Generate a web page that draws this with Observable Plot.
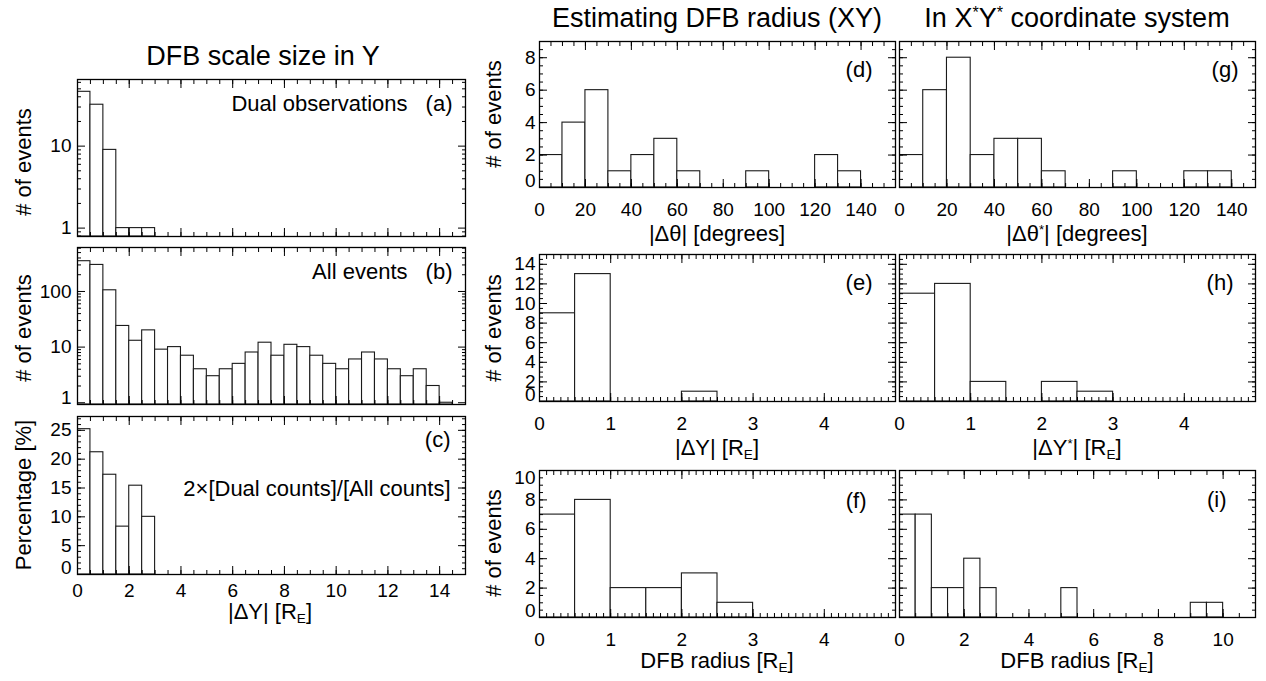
<!DOCTYPE html>
<html><head><meta charset="utf-8">
<script src="https://cdn.jsdelivr.net/npm/d3@7"></script>
<script src="https://cdn.jsdelivr.net/npm/@observablehq/plot@0.6"></script>
<style>
body{margin:0;background:#fff;}
#chart{position:relative;width:1266px;height:681px;overflow:hidden;font-family:"Liberation Sans",Arial,Helvetica,sans-serif;color:#000;background:#fff;}
.lbl{position:absolute;white-space:nowrap;line-height:1;}
.lbl sub{font-size:0.62em;vertical-align:-0.28em;line-height:0;}
.lbl sup{font-size:0.6em;vertical-align:0.55em;line-height:0;}
</style></head><body><div id="chart"></div><script>
// ---------- data ----------
// (a) Dual observations, |ΔY| bins (RE)
const dualBinStart = [0, 0.5, 1, 1.5, 2, 2.5];
const dualCounts   = [46, 32, 9, 1, 1, 1];
// (b) All events, |ΔY| bins (RE)
const allBinStart = [0,0.5,1,1.5,2,2.5,3,3.5,4,4.5,5,5.5,6,6.5,7,7.5,8,8.5,9,9.5,10,10.5,11,11.5,12,12.5,13,13.5,14];
const allCounts   = [350,300,105,24,13,20,9,10,7,4,3,4,5,8,12,7,11,10,7,5,4,6,8,6,4,3,4,2,1];
// (c) 2×[Dual counts]/[All counts] in %
const pctBinStart = [0, 0.5, 1, 1.5, 2, 2.5];
const pctValues   = [25.2, 21.2, 17.3, 8.3, 15.4, 10];
const yBinWidth = 0.5;
// (d) |Δθ| and (g) |Δθ*| in degrees
const thetaBinStart   = [0,10,20,30,40,50,60,70,80,90,100,110,120,130];
const thetaCounts     = [2,4,6,1,2,3,1,0,0,1,0,0,2,1];
const thetaStarCounts = [2,6,8,2,3,3,1,0,0,1,0,0,1,1];
const thetaBinWidth = 10;
// (e) |ΔY| and (h) |ΔY*| (RE)
const dyBinStart     = [0, 0.5, 1, 1.5, 2, 2.5];
const dyCounts       = [9, 13, 0, 0, 1, 0];
const dyStarCounts   = [11, 12, 2, 0, 2, 1];
// (f) DFB radius (RE), XY
const radBinStart = [0, 0.5, 1, 1.5, 2, 2.5];
const radCounts   = [7, 8, 2, 2, 3, 1];
// (i) DFB radius (RE), X*Y*
const radStarBinStart = [0,0.5,1,1.5,2,2.5,3,3.5,4,4.5,5,5.5,6,6.5,7,7.5,8,8.5,9,9.5];
const radStarCounts   = [7,7,2,2,4,2,0,0,0,0,2,0,0,0,0,0,0,0,1,1];
const halfBin = 0.5;

// tick labels
const leftXTicks   = [0,2,4,6,8,10,12,14];
const dualYTicks   = [1,10];
const allYTicks    = [1,10,100];
const pctYTicks    = [0,5,10,15,20,25];
const thetaXTicks  = [0,20,40,60,80,100,120,140];
const countYTicks8 = [0,2,4,6,8];
const dyXTicks     = [0,1,2,3,4];
const dyYTicks     = [0,2,4,6,8,10,12,14];
const radYTicks    = [0,2,4,6,8,10];
const radStarXTicks= [0,2,4,6,8,10];

// ---------- helpers ----------
const root = document.getElementById("chart");
const FONT = '"Liberation Sans", Arial, Helvetica, sans-serif';
function steps(a, b, s) { const r = []; for (let k = 0; a + k * s <= b + 1e-9; k++) r.push(+(a + k * s).toFixed(6)); return r; }
function logMinor(lo, hi) { const r = []; for (let p = -1; p <= 3; p++) for (let m = 2; m <= 9; m++) { const v = m * 10 ** p; if (v > lo && v < hi) r.push(v); } return r; }

function panel(o) {
  const [L, T, R, B] = o.frame;
  const ml = 80, mr = 20, mt = 12, mb = 40;
  const data = o.starts.map((s, i) => ({x1: s, x2: s + o.binWidth, v: o.values[i]})).filter(d => d.v > 0);
  const y0 = o.yDomain[0];
  const marks = [
    Plot.rect(data, {x1: "x1", x2: "x2", y1: y0, y2: "v", fill: "white", stroke: "#1a1a1a", strokeWidth: 1.1, clip: true})
  ];
  for (const anchor of ["bottom", "top"]) {
    marks.push(Plot.axisX({anchor, ticks: o.xMinor, tickSize: -4, tickFormat: () => "", label: null, strokeWidth: 1}));
    marks.push(Plot.axisX({anchor, ticks: o.xMajor, tickSize: -8, tickFormat: () => "", label: null, strokeWidth: 1}));
  }
  for (const anchor of ["left", "right"]) {
    marks.push(Plot.axisY({anchor, ticks: o.yMinor, tickSize: -4, tickFormat: () => "", label: null, strokeWidth: 1}));
    marks.push(Plot.axisY({anchor, ticks: o.yMajor, tickSize: -8, tickFormat: () => "", label: null, strokeWidth: 1}));
  }
  if (o.xLabels) marks.push(Plot.axisX({anchor: "bottom", ticks: o.xLabels, tickSize: 0, tickPadding: o.xPad, fontSize: 19, label: null, tickFormat: d => String(d)}));
  if (o.yLabels) {
    const lowClamp = o.clampLow || [];
    const highClamp = o.clampHigh || [];
    const free = o.yLabels.filter(v => !lowClamp.includes(v) && !highClamp.includes(v));
    marks.push(Plot.axisY({anchor: "left", ticks: free, tickSize: 0, tickPadding: o.yPad, fontSize: 19, label: null, tickFormat: d => String(d)}));
    // labels at the ends of the axis are kept inside the frame's vertical extent
    if (lowClamp.length) marks.push(Plot.text(lowClamp, {y: o.yDomain[0], frameAnchor: "left", dx: -o.yPad, dy: -7, text: d => String(d), textAnchor: "end", lineAnchor: "middle", fontSize: 19, fill: "#000"}));
    if (highClamp.length) marks.push(Plot.text(highClamp, {y: o.yDomain[1], frameAnchor: "left", dx: -o.yPad, dy: 7, text: d => String(d), textAnchor: "end", lineAnchor: "middle", fontSize: 19, fill: "#000"}));
  }
  marks.push(Plot.frame({stroke: "#000", strokeWidth: 1.3}));
  for (const t of o.notes) {
    marks.push(Plot.text([t.text], {frameAnchor: "top-right", text: d => d, dx: -t.dx, dy: t.dy, textAnchor: "end", lineAnchor: "middle", fontSize: 22, fill: "#000"}));
  }
  const svg = Plot.plot({
    width: (R - L) + ml + mr, height: (B - T) + mt + mb,
    marginLeft: ml, marginRight: mr, marginTop: mt, marginBottom: mb,
    x: {domain: o.xDomain},
    y: {type: o.yType || "linear", domain: o.yDomain},
    style: `background: transparent; overflow: visible; font-family: ${FONT}; font-size: 19px; color: #000;`,
    marks
  });
  svg.style.position = "absolute";
  svg.style.left = (L - ml) + "px";
  svg.style.top = (T - mt) + "px";
  svg.style.maxWidth = "none";
  root.appendChild(svg);
}

function label(html, cx, cy, size, rotate) {
  const d = document.createElement("div");
  d.className = "lbl";
  d.innerHTML = html;
  d.style.left = cx + "px";
  d.style.top = cy + "px";
  d.style.fontSize = size + "px";
  d.style.transform = "translate(-50%,-50%)" + (rotate ? " rotate(-90deg)" : "");
  root.appendChild(d);
}

// ---------- left column ----------
const leftXMinor = steps(0, 15, 0.5);
panel({frame: [77, 79, 465, 236], starts: dualBinStart, values: dualCounts, binWidth: yBinWidth,
  xDomain: [0, 15], xMajor: leftXTicks, xMinor: leftXMinor,
  yType: "log", yDomain: [0.79, 65], yMajor: dualYTicks, yMinor: logMinor(0.79, 65),
  yLabels: dualYTicks, yPad: 6,
  notes: [{text: "(a)", dx: 13, dy: 24}, {text: "Dual observations", dx: 58, dy: 24}]});
panel({frame: [77, 247, 465, 404], starts: allBinStart, values: allCounts, binWidth: yBinWidth,
  xDomain: [0, 15], xMajor: leftXTicks, xMinor: leftXMinor,
  yType: "log", yDomain: [0.93, 617], yMajor: allYTicks, yMinor: logMinor(0.93, 617),
  yLabels: allYTicks, yPad: 6, clampLow: [1],
  notes: [{text: "(b)", dx: 13, dy: 24}, {text: "All events", dx: 58, dy: 24}]});
panel({frame: [77, 416, 465, 574], starts: pctBinStart, values: pctValues, binWidth: yBinWidth,
  xDomain: [0, 15], xMajor: leftXTicks, xMinor: leftXMinor,
  yDomain: [0, 27.4], yMajor: pctYTicks, yMinor: steps(0, 27, 1),
  xLabels: leftXTicks, xPad: 9, yLabels: pctYTicks, yPad: 6, clampLow: [0],
  notes: [{text: "(c)", dx: 15, dy: 23}, {text: "2×[Dual counts]/[All counts]", dx: 15, dy: 72}]});

// ---------- middle column (XY) ----------
panel({frame: [539, 41, 895, 187], starts: thetaBinStart, values: thetaCounts, binWidth: thetaBinWidth,
  xDomain: [0, 155], xMajor: thetaXTicks, xMinor: steps(0, 155, 5),
  yDomain: [0, 9], yMajor: countYTicks8, yMinor: steps(0, 9, 0.5),
  xLabels: thetaXTicks, xPad: 15, yLabels: countYTicks8, yPad: 4, clampLow: [0],
  notes: [{text: "(d)", dx: 23, dy: 28}]});
panel({frame: [539, 254, 895, 401], starts: dyBinStart, values: dyCounts, binWidth: halfBin,
  xDomain: [0, 5], xMajor: steps(0, 5, 1), xMinor: steps(0, 5, 0.1),
  yDomain: [0, 15], yMajor: dyYTicks, yMinor: steps(0, 15, 0.5),
  xLabels: dyXTicks, xPad: 15, yLabels: dyYTicks, yPad: 4, clampLow: [0],
  notes: [{text: "(e)", dx: 23, dy: 28}]});
panel({frame: [539, 470, 895, 617], starts: radBinStart, values: radCounts, binWidth: halfBin,
  xDomain: [0, 5], xMajor: steps(0, 5, 1), xMinor: steps(0, 5, 0.1),
  yDomain: [0, 10], yMajor: radYTicks, yMinor: steps(0, 10, 0.5),
  xLabels: dyXTicks, xPad: 15, yLabels: radYTicks, yPad: 4, clampLow: [0], clampHigh: [10],
  notes: [{text: "(f)", dx: 29, dy: 30}]});

// ---------- right column (X*Y*) ----------
panel({frame: [899, 41, 1255, 187], starts: thetaBinStart, values: thetaStarCounts, binWidth: thetaBinWidth,
  xDomain: [0, 150], xMajor: thetaXTicks, xMinor: steps(0, 150, 5),
  yDomain: [0, 9], yMajor: countYTicks8, yMinor: steps(0, 9, 0.5),
  xLabels: thetaXTicks, xPad: 15,
  notes: [{text: "(g)", dx: 17, dy: 28}]});
panel({frame: [899, 254, 1255, 401], starts: dyBinStart, values: dyStarCounts, binWidth: halfBin,
  xDomain: [0, 5], xMajor: steps(0, 5, 1), xMinor: steps(0, 5, 0.1),
  yDomain: [0, 15], yMajor: dyYTicks, yMinor: steps(0, 15, 0.5),
  xLabels: dyXTicks, xPad: 15,
  notes: [{text: "(h)", dx: 22, dy: 28}]});
panel({frame: [899, 470, 1255, 617], starts: radStarBinStart, values: radStarCounts, binWidth: halfBin,
  xDomain: [0, 11], xMajor: radStarXTicks, xMinor: steps(0, 11, 0.5),
  yDomain: [0, 10], yMajor: radYTicks, yMinor: steps(0, 10, 0.5),
  xLabels: radStarXTicks, xPad: 15,
  notes: [{text: "(i)", dx: 29, dy: 29}]});

// ---------- titles & axis labels ----------
label("DFB scale size in Y", 263, 56, 27);
label("Estimating DFB radius (XY)", 717, 18, 27);
label("In X<sup>*</sup>Y<sup>*</sup> coordinate system", 1077, 18, 27);

label("# of events", 24, 162, 22, true);
label("# of events", 24, 328, 22, true);
label("Percentage [%]", 24, 495, 22, true);
label("# of events", 494, 114, 22, true);
label("# of events", 494, 328, 22, true);
label("# of events", 494, 543, 22, true);

label("|ΔY| [R<sub>E</sub>]", 270, 612, 22);
label("|Δθ| [degrees]", 717, 234, 22);
label("|Δθ<sup>*</sup>| [degrees]", 1077, 234, 22);
label("|ΔY| [R<sub>E</sub>]", 717, 448, 22);
label("|ΔY<sup>*</sup>| [R<sub>E</sub>]", 1077, 448, 22);
label("DFB radius [R<sub>E</sub>]", 717, 661, 22);
label("DFB radius [R<sub>E</sub>]", 1077, 661, 22);
</script></body></html>
